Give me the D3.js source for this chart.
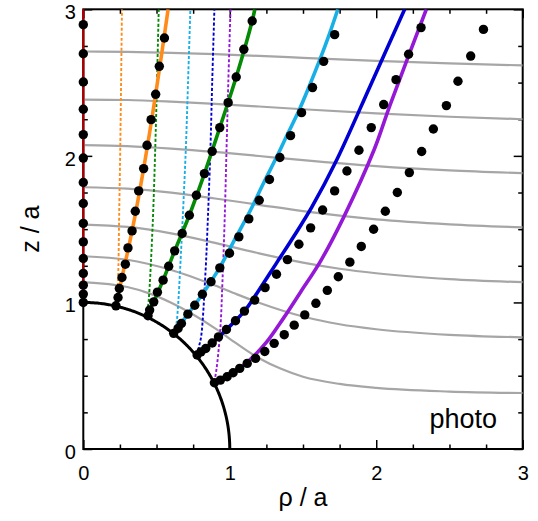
<!DOCTYPE html>
<html>
<head>
<meta charset="utf-8">
<script src="https://cdn.jsdelivr.net/npm/d3@7"></script>
<style>
  body { margin: 0; background: #fff; }
  svg { display: block; }
  text { font-family: "Liberation Sans", Arial, Helvetica, sans-serif; fill: #000; }
</style>
</head>
<body>
<svg id="chart" width="538" height="521"></svg>
<script>
// ---------- data ----------
const majorTicks = [0, 1, 2, 3];
const minorTicks = [0.25, 0.5, 0.75, 1.25, 1.5, 1.75, 2.25, 2.5, 2.75];
const sphereRadius = 1;

// equipotential curves (gray), [rho, z]
const equi1 = [[0,1.139],[0.3,1.105],[0.45,1.062],[0.6,0.998],[0.75,0.918],[0.9,0.823],[1.0,0.752],[1.2,0.619],[1.35,0.547],[1.5,0.493],[1.75,0.444],[2.0,0.417],[2.5,0.392],[3.0,0.382]];
const equi2 = [[0,1.315],[0.3,1.291],[0.6,1.221],[0.9,1.115],[1.05,1.055],[1.2,0.998],[1.5,0.904],[1.75,0.851],[2.0,0.817],[2.5,0.779],[3.0,0.762]];
const equi3 = [[0,1.531],[0.3,1.515],[0.6,1.471],[0.9,1.406],[1.2,1.335],[1.5,1.272],[1.75,1.230],[2.0,1.199],[2.5,1.159],[3.0,1.138]];
const equi4 = [[0,1.786],[0.3,1.776],[0.6,1.749],[0.9,1.709],[1.2,1.666],[1.5,1.623],[2.0,1.567],[2.5,1.533],[3.0,1.512]];
const equi5 = [[0,2.073],[0.3,2.067],[0.6,2.050],[0.9,2.027],[1.2,1.999],[1.5,1.971],[2.0,1.930],[2.5,1.901],[3.0,1.882]];
const equi6 = [[0,2.384],[0.3,2.381],[0.6,2.370],[0.9,2.355],[1.2,2.337],[1.5,2.318],[2.0,2.290],[2.5,2.267],[3.0,2.250]];
const equi7 = [[0,2.712],[0.3,2.709],[0.6,2.703],[0.9,2.694],[1.2,2.682],[1.5,2.669],[2.0,2.648],[2.5,2.631],[3.0,2.617]];

// dotted guide lines leaving the sphere
const dotOrange = [[0.223,0.977],[0.230,1.05],[0.237,1.15],[0.245,1.60],[0.253,2.10],[0.258,2.50],[0.264,3.0]];
const dotGreen  = [[0.433,0.903],[0.440,0.96],[0.447,1.02],[0.474,1.54],[0.492,2.08],[0.503,2.50],[0.515,3.0]];
const dotCyan   = [[0.617,0.789],[0.635,0.85],[0.645,0.95],[0.668,1.36],[0.680,1.60],[0.700,2.05],[0.715,2.50],[0.731,3.0]];
const dotBlue   = [[0.777,0.641],[0.790,0.70],[0.805,0.77],[0.834,1.20],[0.850,1.56],[0.868,2.05],[0.880,2.50],[0.895,3.0]];
const dotPurple = [[0.895,0.459],[0.910,0.55],[0.935,0.81],[0.950,1.14],[0.965,1.56],[0.978,2.05],[0.990,2.50],[1.005,3.0]];

// solid trajectories
const lineRed    = [[0,1],[0,3]];
const lineOrange = [[0.223,0.977],[0.264,1.170],[0.333,1.488],[0.412,1.913],[0.494,2.420],[0.579,3.0]];
const lineGreen  = [[0.433,0.903],[0.481,1.004],[0.545,1.152],[0.624,1.352],[0.724,1.595],[0.827,1.879],[0.932,2.193],[1.044,2.538],[1.153,2.920],[1.171,3.0]];
const lineCyan   = [[0.617,0.789],[0.714,0.920],[0.813,1.056],[0.930,1.236],[1.046,1.452],[1.141,1.629],[1.230,1.813],[1.319,1.990],[1.394,2.147],[1.470,2.304],[1.545,2.481],[1.613,2.651],[1.682,2.836],[1.738,3.0]];
const lineBlue   = [[0.777,0.641],[0.880,0.723],[0.977,0.815],[1.100,0.941],[1.200,1.085],[1.320,1.270],[1.440,1.455],[1.560,1.650],[1.729,1.970],[1.962,2.484],[2.194,3.0]];
const linePurple = [[0.895,0.459],[1.005,0.508],[1.128,0.600],[1.251,0.729],[1.367,0.893],[1.483,1.070],[1.620,1.282],[1.779,1.584],[1.984,2.038],[2.096,2.352],[2.342,3.0]];

// photographed positions (black dots)
const axisZ = [1.0,1.057,1.118,1.198,1.30,1.413,1.539,1.675,1.818,1.985,2.145,2.318,2.504,2.697,2.895];
const ptsOrange = [[0.223,0.977],[0.237,1.034],[0.246,1.095],[0.264,1.170],[0.287,1.261],[0.305,1.372],[0.333,1.488],[0.355,1.622],[0.378,1.761],[0.412,1.913],[0.435,2.072],[0.463,2.247],[0.494,2.420],[0.519,2.611],[0.554,2.804]];
const ptsGreen = [[0.442,0.909],[0.453,0.948],[0.481,1.004],[0.506,1.070],[0.545,1.152],[0.583,1.247],[0.624,1.352],[0.675,1.470],[0.724,1.595],[0.772,1.731],[0.827,1.879],[0.880,2.031],[0.932,2.193],[0.989,2.363],[1.044,2.538],[1.096,2.727],[1.153,2.920]];
const ptsCyan = [[0.617,0.789],[0.647,0.823],[0.670,0.856],[0.714,0.920],[0.761,0.981],[0.813,1.056],[0.872,1.141],[0.932,1.236],[0.998,1.336],[1.062,1.447],[1.130,1.570],[1.201,1.697],[1.271,1.839],[1.342,1.989],[1.415,2.138],[1.490,2.295],[1.565,2.466],[1.641,2.645],[1.716,2.827]];
const ptsBlue = [[0.777,0.641],[0.803,0.663],[0.836,0.686],[0.880,0.723],[0.923,0.765],[0.977,0.815],[1.039,0.875],[1.100,0.941],[1.170,1.016],[1.241,1.101],[1.319,1.192],[1.394,1.292],[1.472,1.397],[1.552,1.509],[1.634,1.631],[1.716,1.761],[1.800,1.897],[1.882,2.038],[1.966,2.193],[2.051,2.350],[2.135,2.520],[2.221,2.693],[2.306,2.875]];
const ptsFar = [[0.895,0.452],[0.936,0.470],[0.982,0.493],[1.023,0.520],[1.068,0.550],[1.119,0.584],[1.176,0.618],[1.239,0.665],[1.303,0.721],[1.372,0.780],[1.440,0.845],[1.512,0.915],[1.588,0.994],[1.666,1.082],[1.741,1.175],[1.820,1.275],[1.898,1.382],[1.982,1.499],[2.062,1.622],[2.144,1.750],[2.226,1.886],[2.310,2.030],[2.390,2.183],[2.479,2.343],[2.558,2.509],[2.645,2.681],[2.732,2.863]];

// ---------- drawing ----------
const svg = d3.select("#chart");
const x = d3.scaleLinear().domain([0, 3]).range([83.3, 522.7]);
const y = d3.scaleLinear().domain([0, 3]).range([449, 9.3]);

svg.append("defs").append("clipPath").attr("id", "plotClip")
  .append("rect")
  .attr("x", x(0)).attr("y", y(3))
  .attr("width", x(3) - x(0)).attr("height", y(0) - y(3));

// frame
svg.append("rect")
  .attr("x", x(0)).attr("y", y(3))
  .attr("width", x(3) - x(0)).attr("height", y(0) - y(3))
  .attr("fill", "none").attr("stroke", "#000").attr("stroke-width", 2);

// inward ticks on all four sides
function ticks(gen, tx, ty, vals, size, labels) {
  const g = svg.append("g").attr("transform", `translate(${tx},${ty})`)
    .call(gen.tickValues(vals).tickSize(-size).tickFormat(labels ? d3.format("d") : ""));
  g.select(".domain").remove();
  g.selectAll(".tick line").attr("stroke", "#000").attr("stroke-width", 1.5);
  g.selectAll("text").attr("font-size", 20).attr("font-family", '"Liberation Sans", Arial, sans-serif').attr("fill", "#000");
  return g;
}
ticks(d3.axisBottom(x).tickPadding(17), 0, y(0), majorTicks, 9, true);
ticks(d3.axisBottom(x), 0, y(0), minorTicks, 4.5, false);
const leftMajor = ticks(d3.axisLeft(y).tickPadding(7.5), x(0), 0, majorTicks, 9, true);
leftMajor.selectAll("text").attr("dy", "0.47em");
ticks(d3.axisLeft(y), x(0), 0, minorTicks, 4.5, false);
ticks(d3.axisTop(x), 0, y(3), majorTicks, 9, false);
ticks(d3.axisTop(x), 0, y(3), minorTicks, 4.5, false);
ticks(d3.axisRight(y), x(3), 0, majorTicks, 9, false);
ticks(d3.axisRight(y), x(3), 0, minorTicks, 4.5, false);

const plot = svg.append("g").attr("clip-path", "url(#plotClip)");

const smoothX = d3.line().x(d => x(d[0])).y(d => y(d[1])).curve(d3.curveMonotoneX);
const smooth = d3.line().x(d => x(d[0])).y(d => y(d[1])).curve(d3.curveCatmullRom.alpha(0.5));

// gray equipotentials
[equi1, equi2, equi3, equi4, equi5, equi6, equi7].forEach(c => {
  plot.append("path").attr("d", smoothX(c))
    .attr("fill", "none").attr("stroke", "#a6a6a6").attr("stroke-width", 2.2);
});

// dotted guides
const colors = { orange: "#ff8c1a", green: "#058a05", cyan: "#17afe6", blue: "#0000d2", purple: "#9418d6", red: "#a80000" };
[[dotOrange, colors.orange], [dotGreen, colors.green], [dotCyan, colors.cyan], [dotBlue, colors.blue], [dotPurple, colors.purple]]
  .forEach(([c, col]) => {
    plot.append("path").attr("d", smooth(c))
      .attr("fill", "none").attr("stroke", col).attr("stroke-width", 1.9)
      .attr("stroke-dasharray", "3,2");
  });

// solid trajectories
[[lineOrange, colors.orange], [lineGreen, colors.green], [lineCyan, colors.cyan], [lineBlue, colors.blue], [linePurple, colors.purple]]
  .forEach(([c, col]) => {
    plot.append("path").attr("d", smooth(c))
      .attr("fill", "none").attr("stroke", col).attr("stroke-width", 3.6);
  });
svg.append("path").attr("d", smooth(lineRed))
  .attr("fill", "none").attr("stroke", colors.red).attr("stroke-width", 2.4);

// sphere outline (quarter circle of radius a)
const arcPts = d3.range(0, 90.25, 0.5).map(t => {
  const r = t * Math.PI / 180;
  return [sphereRadius * Math.sin(r), sphereRadius * Math.cos(r)];
});
svg.append("path")
  .attr("d", d3.line().x(d => x(d[0])).y(d => y(d[1]))(arcPts))
  .attr("fill", "none").attr("stroke", "#000").attr("stroke-width", 3);

// black dots
const allPts = [].concat(
  axisZ.map(z => [0, z]), ptsOrange, ptsGreen, ptsCyan, ptsBlue, ptsFar);
svg.append("g").selectAll("circle").data(allPts).join("circle")
  .attr("cx", d => x(d[0])).attr("cy", d => y(d[1])).attr("r", 4.7)
  .attr("fill", "#000");

// labels
svg.append("text")
  .attr("x", (x(0) + x(3)) / 2).attr("y", 506)
  .attr("text-anchor", "middle").attr("font-size", 25)
  .text("ρ / a");
svg.append("text")
  .attr("transform", `translate(39,${(y(0) + y(3)) / 2}) rotate(-90)`)
  .attr("text-anchor", "middle").attr("font-size", 25)
  .text("z / a");
svg.append("text")
  .attr("x", 497).attr("y", 428)
  .attr("text-anchor", "end").attr("font-size", 27)
  .text("photo");
</script>
</body>
</html>
